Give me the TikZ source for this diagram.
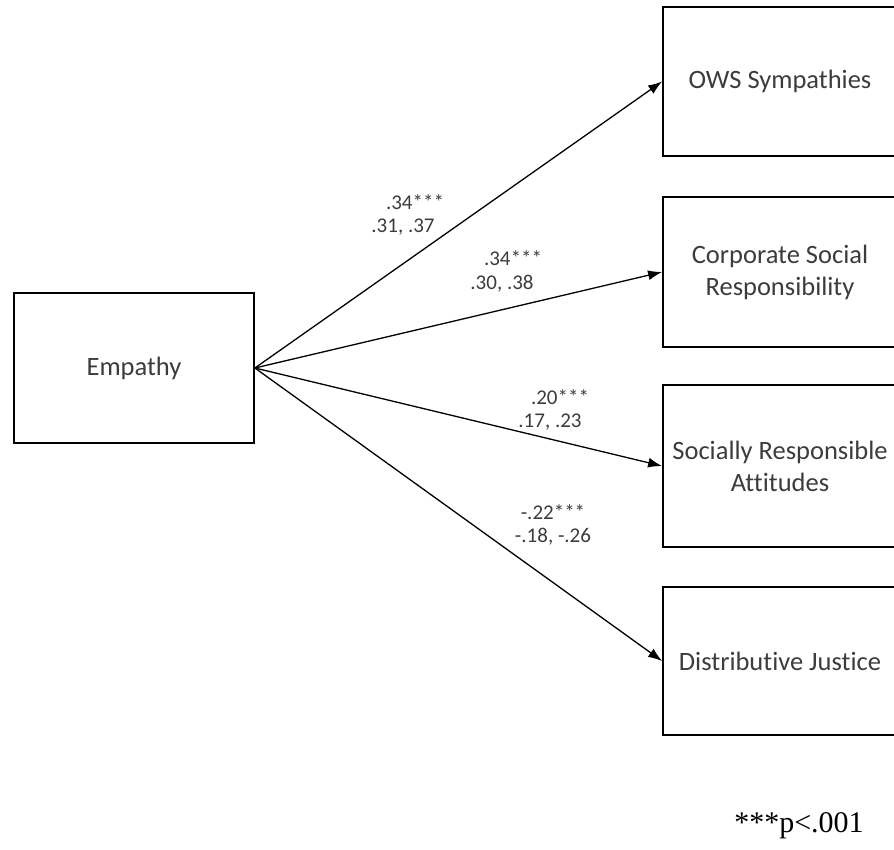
\documentclass[tikz,border=0pt]{standalone}
\usepackage{fontspec}
\setmainfont{Carlito}[Ligatures=CommonOff]
\newfontfamily\timesfont{Liberation Serif}
\usetikzlibrary{arrows.meta}
\definecolor{txtgray}{HTML}{3C3C3C}
\begin{document}
\begin{tikzpicture}[x=1pt,y=-1pt,
  boxnode/.style={draw=black, line width=1.8pt, rectangle, inner sep=0pt,
    font=\fontsize{26.5}{32}\selectfont, text=txtgray, align=center},
  pathlbl/.style={font=\fontsize{21}{25}\selectfont, text=txtgray, align=center, inner sep=0pt},
  conn/.style={line width=1.3pt, draw=black, -{Latex[length=14pt,width=10pt]}}]
\useasboundingbox (0,0) rectangle (894,849);
\begin{scope}
\clip (0,0) rectangle (894,849);
\node[boxnode, minimum width=240pt, minimum height=150pt] (emp) at (134,368) {Empathy};
\node[boxnode, minimum width=234pt, minimum height=149pt] (ows) at (780,81.5) {OWS Sympathies};
\node[boxnode, minimum width=234pt, minimum height=150pt] (csr) at (780,272) {Corporate Social\\Responsibility};
\node[boxnode, minimum width=234pt, minimum height=162pt] (sra) at (780,466) {Socially Responsible\\Attitudes};
\node[boxnode, minimum width=234pt, minimum height=148pt] (dj) at (780,661) {Distributive Justice};
\end{scope}
\draw[conn] (emp.east) -- (ows.west);
\draw[conn] (emp.east) -- (csr.west);
\draw[conn] (emp.east) -- (sra.west);
\draw[conn] (emp.east) -- (dj.west);
\node[pathlbl] (l1a) at (415,202) {.34***};
\node[pathlbl] (l1b) at (403,227) {.31, .37};
\node[pathlbl] (l2a) at (513,258) {.34***};
\node[pathlbl] (l2b) at (502,284) {.30, .38};
\node[pathlbl] (l3a) at (560,397) {.20***};
\node[pathlbl] (l3b) at (550,422) {.17, .23};
\node[pathlbl] (l4a) at (553,512) {-.22***};
\node[pathlbl] (l4b) at (553,537) {-.18, -.26};
\node[font=\timesfont\fontsize{30}{34}\selectfont, inner sep=0pt] (note) at (799,826) {***p<.001};
\end{tikzpicture}
\end{document}
